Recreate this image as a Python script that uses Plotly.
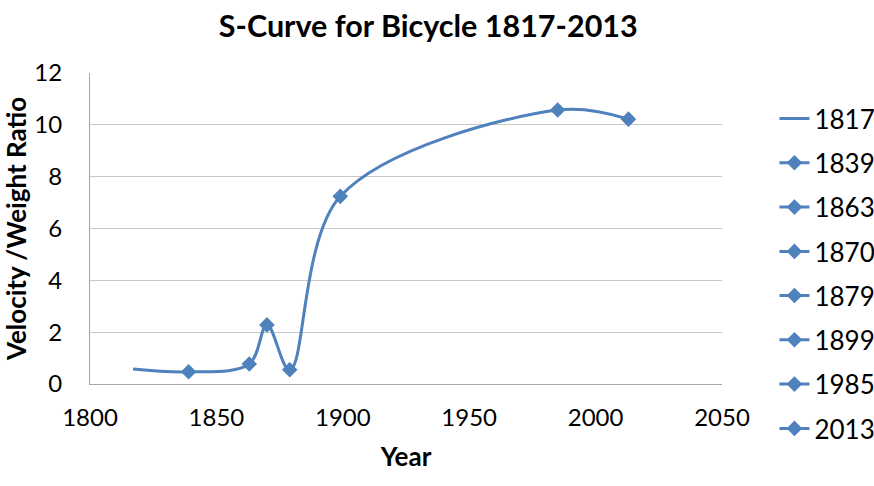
import plotly.graph_objects as go

years = [1817, 1839, 1863, 1870, 1879, 1899, 1985, 2013]
ratio = [0.58, 0.47, 0.77, 2.28, 0.55, 7.24, 10.57, 10.22]
series_names = ["1817", "1839", "1863", "1870", "1879", "1899", "1985", "2013"]

title_text = "S-Curve for Bicycle 1817-2013"
x_title = "Year"
y_title = "Velocity /Weight Ratio"
x_ticks = [1800, 1850, 1900, 1950, 2000, 2050]
y_ticks = [0, 2, 4, 6, 8, 10, 12]

BLUE = "#4f81bd"
FONT = "Lato, 'Open Sans', sans-serif"

fig = go.Figure()

# Main smooth line (first series, no markers)
fig.add_trace(go.Scatter(
    x=years, y=ratio, name=series_names[0], mode="lines",
    line=dict(color=BLUE, width=3, shape="spline", smoothing=1),
    legendgroup="g0", showlegend=True, legend="legend",
))

# Each remaining point as its own series with a diamond marker
for i in range(1, len(years)):
    fig.add_trace(go.Scatter(
        x=[years[i]], y=[ratio[i]], name=series_names[i], mode="lines+markers",
        line=dict(color=BLUE, width=3),
        marker=dict(symbol="diamond", size=12, color=BLUE),
        legendgroup=f"g{i}", showlegend=True,
        legend="legend" if i < 4 else "legend2",
    ))

leg_common = dict(x=1.083, xanchor="left", yanchor="top",
                  font=dict(size=26, family=FONT), tracegroupgap=7.5,
                  traceorder="grouped", bgcolor="rgba(0,0,0,0)")

fig.update_layout(
    width=874, height=486,
    paper_bgcolor="white", plot_bgcolor="white",
    margin=dict(l=90, r=152, t=73, b=102, autoexpand=False),
    font=dict(family=FONT, size=24, color="#000000"),
    title=dict(text="<b>" + title_text + "</b>", x=0.49, xanchor="center",
               y=0.945, yanchor="middle", font=dict(size=30.5, family=FONT)),
    showlegend=True,
    legend=dict(y=0.929, **leg_common),
    legend2=dict(y=0.929 - 177.0 / 311.0, **leg_common),
    xaxis=dict(
        range=[1800, 2050], tickvals=x_ticks, ticktext=[str(t) for t in x_ticks],
        showgrid=False, showline=True, linecolor="#a6a6a6", linewidth=1,
        ticks="outside", ticklen=12, tickcolor="rgba(0,0,0,0)", zeroline=False,
        title=dict(text="<b>" + x_title + "</b>", font=dict(size=26, family=FONT), standoff=18),
    ),
    yaxis=dict(
        range=[0, 12], tickvals=y_ticks, ticktext=[str(t) for t in y_ticks],
        showgrid=True, gridcolor="#c8c8c8", gridwidth=1,
        showline=True, linecolor="#a6a6a6", linewidth=1,
        ticks="outside", ticklen=22, tickcolor="rgba(0,0,0,0)", zeroline=False,
        title=dict(text="<b>" + y_title + "</b>", font=dict(size=26, family=FONT), standoff=16),
    ),
)

fig.write_html("out.html")
